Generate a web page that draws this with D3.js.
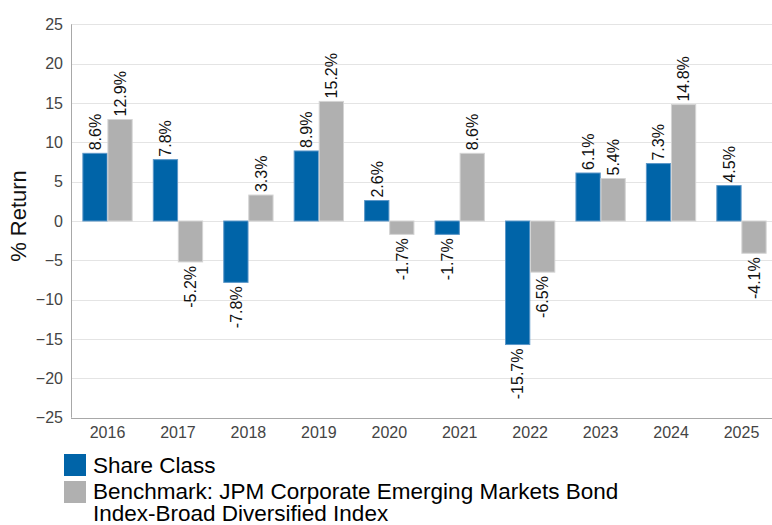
<!DOCTYPE html>
<html><head><meta charset="utf-8">
<script src="https://cdn.jsdelivr.net/npm/d3@7/dist/d3.min.js"></script>
<style>body{margin:0;background:#fff;}svg{display:block;font-family:"Liberation Sans",Arial,sans-serif;}</style>
</head><body>
<svg id="chart" width="772" height="525"></svg>
<script>
const years = ["2016","2017","2018","2019","2020","2021","2022","2023","2024","2025"];
const shareClass = [8.6, 7.8, -7.8, 8.9, 2.6, -1.7, -15.7, 6.1, 7.3, 4.5];
const benchmark = [12.9, -5.2, 3.3, 15.2, -1.7, 8.6, -6.5, 5.4, 14.8, -4.1];
const seriesNames = ["Share Class", "Benchmark: JPM Corporate Emerging Markets Bond", "Index-Broad Diversified Index"];
const yTicks = [25, 20, 15, 10, 5, 0, -5, -10, -15, -20, -25];
const colors = ["#0064a8", "#b0b0b0"];

(function(){
const svg = d3.select("#chart");
const pl = 71, pr = 772, pt = 24.3, pb = 417.7;
const y = d3.scaleLinear().domain([-25, 25]).range([pb, pt]);
const x = d3.scaleBand().domain(years).range([72.3, 776.7]).paddingInner(0.3).paddingOuter(0.15);
const xs = d3.scaleBand().domain([0,1]).range([0, x.bandwidth()]).paddingInner(0.03);

// gridlines
svg.append("g").selectAll("line").data(yTicks).join("line")
  .attr("x1", pl).attr("x2", pr)
  .attr("y1", d => Math.round(y(d)) + 0.5).attr("y2", d => Math.round(y(d)) + 0.5)
  .attr("stroke", "#e4e4e4").attr("stroke-width", 1);

// y tick labels
const yAxis = d3.axisLeft(y).tickValues(yTicks).tickSize(0).tickPadding(8);
const yg = svg.append("g").attr("transform", `translate(${pl},0)`).call(yAxis);
yg.select(".domain").remove();
yg.selectAll("text").attr("font-size", 16).attr("fill", "#444").attr("font-family", "Liberation Sans, Arial, sans-serif");

// bars
const data = years.map((yr, i) => ({yr, vals: [shareClass[i], benchmark[i]]}));
const groups = svg.append("g").selectAll("g").data(data).join("g")
  .attr("transform", d => `translate(${x(d.yr)},0)`);
groups.selectAll("rect").data(d => d.vals.map((v, k) => ({v, k}))).join("rect")
  .attr("x", d => xs(d.k)).attr("width", xs.bandwidth())
  .attr("y", d => y(Math.max(0, d.v))).attr("height", d => Math.abs(y(d.v) - y(0)))
  .attr("fill", d => colors[d.k])
  .attr("stroke", d => d.k === 0 ? "#5c97c8" : "#d4d4d4").attr("stroke-width", 1);

groups.selectAll("text").data(d => d.vals.map((v, k) => ({v, k}))).join("text")
  .attr("transform", d => {
    const cx = xs(d.k) + xs.bandwidth() / 2;
    const yy = d.v >= 0 ? y(d.v) - 3 : y(d.v) + 4;
    return `translate(${cx},${yy}) rotate(-90)`;
  })
  .attr("text-anchor", d => d.v >= 0 ? "start" : "end")
  .attr("dy", "0.36em")
  .attr("font-size", 16).attr("fill", "#111")
  .text(d => d.v.toFixed(1) + "%");

// axis lines
svg.append("line").attr("x1", pl + 0.5).attr("x2", pl + 0.5).attr("y1", pt).attr("y2", pb)
  .attr("stroke", "#a8a8a8");
svg.append("line").attr("x1", pl).attr("x2", pr).attr("y1", Math.round(pb) + 0.5).attr("y2", Math.round(pb) + 0.5)
  .attr("stroke", "#a8a8a8");

// x labels
const xAxis = d3.axisBottom(x).tickSize(0).tickPadding(9);
const xg = svg.append("g").attr("transform", `translate(0,${pb})`).call(xAxis);
xg.select(".domain").remove();
xg.selectAll("text").attr("font-size", 16).attr("fill", "#444").attr("font-family", "Liberation Sans, Arial, sans-serif");

// y title
svg.append("text").attr("transform", "translate(26,216) rotate(-90)")
  .attr("text-anchor", "middle").attr("font-size", 22).attr("fill", "#111").text("% Return");

// legend
const lg = svg.append("g");
lg.append("rect").attr("x", 64).attr("y", 454).attr("width", 22).attr("height", 22).attr("fill", colors[0]);
lg.append("rect").attr("x", 64).attr("y", 481).attr("width", 22).attr("height", 22).attr("fill", colors[1]);
lg.append("text").attr("x", 93).attr("y", 473).attr("font-size", 22.5).attr("fill", "#000").text(seriesNames[0]);
const bt = lg.append("text").attr("x", 93).attr("y", 499).attr("font-size", 22.5).attr("fill", "#000");
bt.append("tspan").attr("x", 93).text(seriesNames[1]);
bt.append("tspan").attr("x", 93).attr("dy", 21.5).text(seriesNames[2]);
})();
</script>
</body></html>
